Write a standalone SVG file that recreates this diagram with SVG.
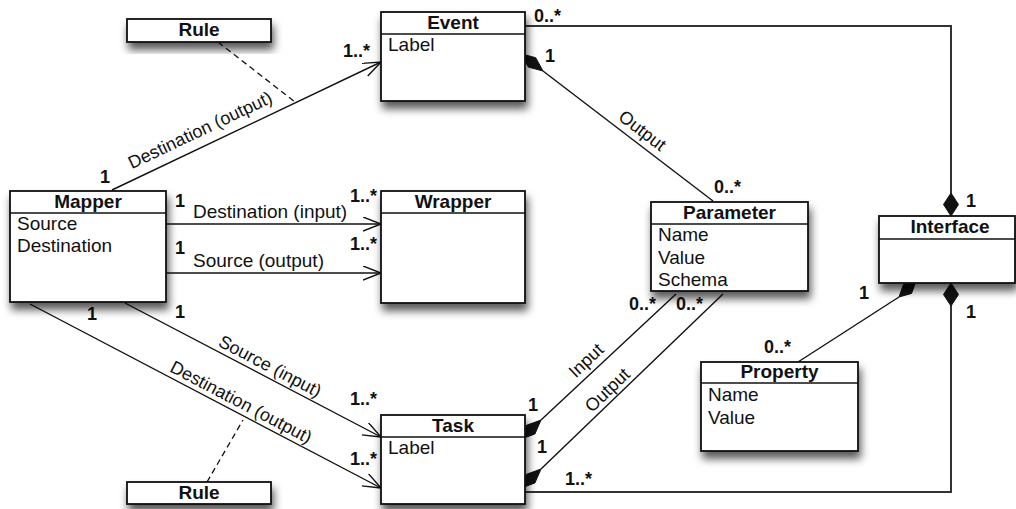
<svg xmlns="http://www.w3.org/2000/svg" width="1016" height="509" viewBox="0 0 1016 509">
<style>
.box{fill:#fff;stroke:#111;stroke-width:1.8}
.sep{stroke:#111;stroke-width:1.5}
.hd{font-family:"Liberation Sans",Arial,sans-serif;font-size:19px;font-weight:bold;text-anchor:middle;fill:#111}
.at{font-family:"Liberation Sans",Arial,sans-serif;font-size:19px;fill:#111}
.lb{font-family:"Liberation Sans",Arial,sans-serif;font-size:18px;fill:#111;text-anchor:middle}
.m{font-family:"Liberation Sans",Arial,sans-serif;font-size:18px;font-weight:bold;fill:#111}
.ln{stroke:#111;stroke-width:1.4;fill:none}
.fr{stroke:#333;stroke-width:2;fill:none}
.ds{stroke:#111;stroke-width:1.3;stroke-dasharray:6 4;fill:none}
.dm{fill:#111;stroke:#111;stroke-width:1}
</style>
<defs>
<filter id="sh" x="-20%" y="-20%" width="140%" height="170%">
<feDropShadow dx="2" dy="7" stdDeviation="4" flood-color="#000" flood-opacity="0.65"/>
</filter>
<marker id="arr" markerUnits="userSpaceOnUse" markerWidth="20" markerHeight="16" refX="18" refY="7" orient="auto">
<path d="M0,0 L18,7 L0,14" fill="none" stroke="#111" stroke-width="1.4"/>
</marker>
</defs>
<g id="connectors">
<line class="ln" x1="112" y1="190" x2="381" y2="62" marker-end="url(#arr)"/>
<line class="ln" x1="166" y1="224" x2="381" y2="224" marker-end="url(#arr)"/>
<line class="ln" x1="166" y1="273" x2="381" y2="273" marker-end="url(#arr)"/>
<line class="ln" x1="125" y1="303" x2="381" y2="437" marker-end="url(#arr)"/>
<line class="ln" x1="30" y1="304" x2="381" y2="488" marker-end="url(#arr)"/>
<line class="ds" x1="218" y1="42" x2="295" y2="102"/>
<line class="ds" x1="207" y1="482" x2="243" y2="420"/>
<line class="ln" x1="543" y1="71" x2="713" y2="201"/>
<polygon class="dm" points="520.9,53.8 528.3,67.1 543,71 535.7,57.7"/>
<line class="ln" x1="541" y1="420" x2="676" y2="294"/>
<polygon class="dm" points="520.6,439.2 534.9,434 541,420 526.7,425.2"/>
<line class="ln" x1="541" y1="469" x2="723" y2="294"/>
<polygon class="dm" points="520.6,488.2 534.9,483 541,469 526.7,474.2"/>
<polyline class="fr" points="525,26 951,26 951,194"/>
<polygon class="dm" points="951,193 958.5,204.5 951,216 943.5,204.5"/>
<polyline class="fr" points="525,492 951,492 951,305"/>
<polygon class="dm" points="951,283 958.5,294.5 951,306 943.5,294.5"/>
<line class="ln" x1="798" y1="362" x2="899" y2="297"/>
<polygon class="dm" points="916,281 911.6,293.4 899,297 903.4,284.6"/>
<text class="lb" transform="translate(207,144.6) rotate(-25.4)" y="-10">Destination (output)</text>
<text class="at" x="193" y="218">Destination (input)</text>
<text class="at" x="193" y="267">Source (output)</text>
<text class="lb" transform="translate(265,376) rotate(27.6)" y="-5">Source (input)</text>
<text class="lb" transform="translate(236,412) rotate(27.7)" y="-5">Destination (output)</text>
<text class="lb" transform="translate(634.5,140.9) rotate(37.4)" y="-7">Output</text>
<text class="lb" transform="translate(595,370) rotate(-43.3)" y="-7">Input</text>
<text class="lb" transform="translate(615,398) rotate(-43.9)" y="-5">Output</text>
<text class="m" x="100" y="183">1</text>
<text class="m" x="343" y="57">1..*</text>
<text class="m" x="534" y="22">0..*</text>
<text class="m" x="545" y="62">1</text>
<text class="m" x="714" y="193">0..*</text>
<text class="m" x="966" y="207">1</text>
<text class="m" x="175" y="207">1</text>
<text class="m" x="350" y="202">1..*</text>
<text class="m" x="175" y="254">1</text>
<text class="m" x="350" y="250">1..*</text>
<text class="m" x="175" y="318">1</text>
<text class="m" x="87" y="320">1</text>
<text class="m" x="350" y="405">1..*</text>
<text class="m" x="350" y="465">1..*</text>
<text class="m" x="528" y="411">1</text>
<text class="m" x="537" y="453">1</text>
<text class="m" x="565" y="485">1..*</text>
<text class="m" x="629" y="310">0..*</text>
<text class="m" x="676" y="310">0..*</text>
<text class="m" x="859" y="299">1</text>
<text class="m" x="764" y="353">0..*</text>
<text class="m" x="966" y="318">1</text>
</g>
<g id="rule-top">
<rect class="box" x="127" y="19" width="144" height="23" filter="url(#sh)"/>
<text class="hd" x="199" y="36">Rule</text>
</g>
<g id="rule-bottom">
<rect class="box" x="127" y="482" width="144" height="22" filter="url(#sh)"/>
<text class="hd" x="199" y="499">Rule</text>
</g>
<g id="event">
<rect class="box" x="381" y="12" width="144" height="89" filter="url(#sh)"/>
<line class="sep" x1="381" y1="34" x2="525" y2="34"/>
<text class="hd" x="453" y="28.5">Event</text>
<text class="at" x="388" y="51">Label</text>
</g>
<g id="mapper">
<rect class="box" x="10" y="191" width="156" height="111" filter="url(#sh)"/>
<line class="sep" x1="10" y1="213" x2="166" y2="213"/>
<text class="hd" x="88" y="207.5">Mapper</text>
<text class="at" x="17" y="229.5">Source</text>
<text class="at" x="17" y="252">Destination</text>
</g>
<g id="wrapper">
<rect class="box" x="381" y="191" width="144" height="112" filter="url(#sh)"/>
<line class="sep" x1="381" y1="213" x2="525" y2="213"/>
<text class="hd" x="453" y="207.5">Wrapper</text>
</g>
<g id="parameter">
<rect class="box" x="651" y="202" width="157" height="89" filter="url(#sh)"/>
<line class="sep" x1="651" y1="224" x2="808" y2="224"/>
<text class="hd" x="729.5" y="218.5">Parameter</text>
<text class="at" x="658" y="241">Name</text>
<text class="at" x="658" y="263.5">Value</text>
<text class="at" x="658" y="285.5">Schema</text>
</g>
<g id="interface">
<rect class="box" x="879" y="216" width="136" height="67" filter="url(#sh)"/>
<line class="sep" x1="879" y1="239" x2="1015" y2="239"/>
<text class="hd" x="950" y="233">Interface</text>
</g>
<g id="property">
<rect class="box" x="701" y="362" width="157" height="89" filter="url(#sh)"/>
<line class="sep" x1="701" y1="383" x2="858" y2="383"/>
<text class="hd" x="779.5" y="378">Property</text>
<text class="at" x="708" y="401">Name</text>
<text class="at" x="708" y="423.5">Value</text>
</g>
<g id="task">
<rect class="box" x="381" y="415" width="144" height="89" filter="url(#sh)"/>
<line class="sep" x1="381" y1="437" x2="525" y2="437"/>
<text class="hd" x="453" y="431.5">Task</text>
<text class="at" x="388" y="453.5">Label</text>
</g>
</svg>
